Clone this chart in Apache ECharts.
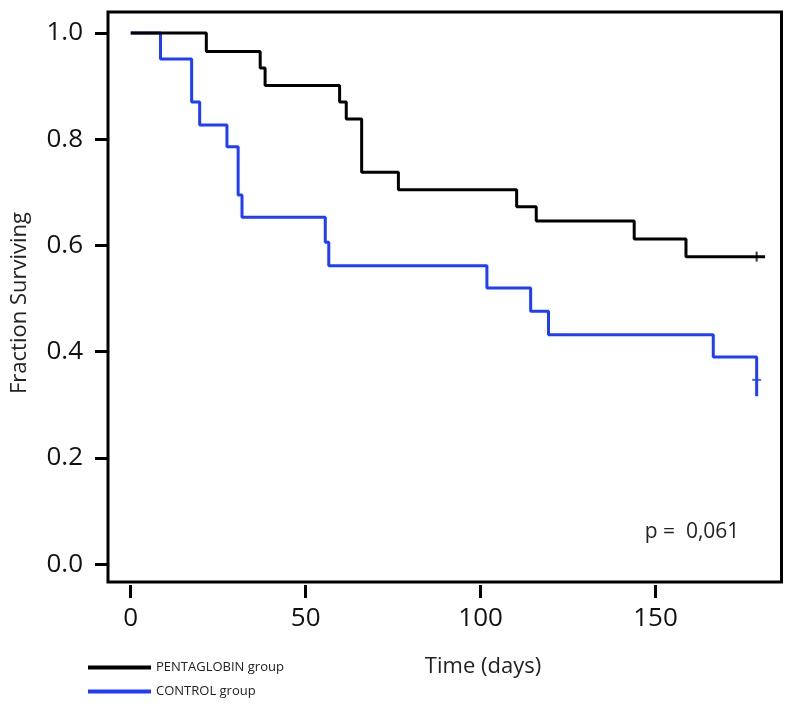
<!DOCTYPE html>
<html>
<head>
<meta charset="utf-8">
<script src="https://cdn.jsdelivr.net/npm/echarts@6/dist/echarts.min.js"></script>
<style>
html,body{margin:0;padding:0;background:#fff;}
#chart{width:789px;height:705px;}
</style>
</head>
<body>
<div id="chart"></div>
<script>
// Kaplan-Meier steps: [day, fraction surviving]
var pentaglobinSteps = [
  [0, 1.0], [21.6, 0.965], [37.0, 0.934], [38.4, 0.901], [59.7, 0.870],
  [61.6, 0.838], [66.0, 0.738], [76.5, 0.705], [110.3, 0.673], [115.9, 0.646],
  [143.9, 0.612], [158.7, 0.579], [181.3, 0.579]
];
var controlSteps = [
  [0, 1.0], [8.5, 0.951], [17.4, 0.870], [19.7, 0.827], [27.5, 0.786],
  [30.7, 0.695], [31.8, 0.653], [55.6, 0.606], [56.6, 0.562], [101.8, 0.520],
  [114.3, 0.476], [119.4, 0.432], [166.5, 0.390], [178.9, 0.316]
];
var pentaglobinCensored = [[178.9, 0.579]];
var controlCensored = [[178.9, 0.347]];

var xTicks = [0, 50, 100, 150];
var yTicks = [0, 0.2, 0.4, 0.6, 0.8, 1.0];
var seriesNames = ['PENTAGLOBIN group', 'CONTROL group'];
var yAxisTitle = 'Fraction Surviving';
var xAxisTitle = 'Time (days)';
var pValueText = 'p =  0,061';

var BLUE = '#1f3dff';
var chart = echarts.init(document.getElementById('chart'), null, {renderer: 'canvas'});
var tickFont = {fontFamily: 'Open Sans', fontSize: 26, color: '#111'};
var legendCommon = {
  orient: 'vertical', itemWidth: 63, itemHeight: 4, icon: 'rect', itemGap: 7,
  textStyle: {fontFamily: 'Open Sans', fontSize: 13, color: '#222'}
};

chart.setOption({
  animation: false,
  backgroundColor: '#fff',
  grid: {
    left: 108, right: 7.5, top: 12, bottom: 123,
    show: true, borderColor: '#000', borderWidth: 3, backgroundColor: 'transparent'
  },
  xAxis: {
    type: 'value', min: -6.5, max: 186, offset: 3,
    splitLine: {show: false},
    axisLine: {show: false, onZero: false},
    axisTick: {show: true, length: 13, lineStyle: {color: '#000', width: 3}, customValues: xTicks},
    axisLabel: Object.assign({margin: 21, customValues: xTicks}, tickFont)
  },
  yAxis: {
    type: 'value', min: -0.0335, max: 1.0395,
    splitLine: {show: false},
    axisLine: {show: false, onZero: false},
    axisTick: {show: true, length: 13, lineStyle: {color: '#000', width: 3}, customValues: yTicks},
    axisLabel: Object.assign({margin: 25, customValues: yTicks, formatter: function (v) { return v.toFixed(1); }}, tickFont)
  },
  legend: [
    Object.assign({data: [seriesNames[0]], left: 83, top: 656}, legendCommon),
    Object.assign({data: [seriesNames[1]], left: 83, top: 680}, legendCommon)
  ],
  graphic: [
    {type: 'text', x: 20, y: 303, rotation: Math.PI / 2,
     style: {text: yAxisTitle, fontFamily: 'Open Sans', fontSize: 22, fill: '#222', textAlign: 'center', textVerticalAlign: 'middle'}},
    {type: 'text', x: 483, y: 667,
     style: {text: xAxisTitle, fontFamily: 'Open Sans', fontSize: 22, fill: '#222', textAlign: 'center', textVerticalAlign: 'middle'}},
    {type: 'text', x: 692, y: 532,
     style: {text: pValueText, fontFamily: 'Open Sans', fontSize: 21, fill: '#222', textAlign: 'center', textVerticalAlign: 'middle'}}
  ],
  series: [
    {name: seriesNames[0], type: 'line', step: 'end', data: pentaglobinSteps, showSymbol: false,
     color: '#000', lineStyle: {color: '#000', width: 3}, z: 3},
    {name: seriesNames[1], type: 'line', step: 'end', data: controlSteps, showSymbol: false,
     color: BLUE, lineStyle: {color: BLUE, width: 3}, z: 2},
    {name: 'pCens', type: 'scatter', data: pentaglobinCensored, symbol: 'rect', symbolSize: [2, 10],
     itemStyle: {color: '#000'}, z: 4},
    {name: 'cCens', type: 'scatter', data: controlCensored, symbol: 'rect', symbolSize: [9, 2],
     itemStyle: {color: BLUE}, z: 4}
  ]
});
</script>
</body>
</html>
